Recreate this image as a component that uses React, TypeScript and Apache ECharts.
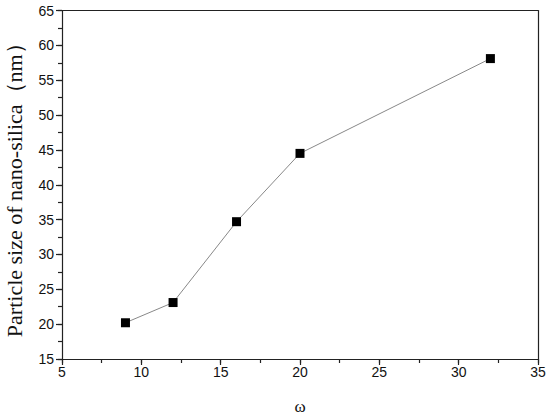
import React, { useEffect, useRef } from "react";
import * as echarts from "echarts";

const omega = [9, 12, 16, 20, 32];
const particleSize = [20.2, 23.1, 34.7, 44.5, 58.1];
const xName = "ω";
const yName = "Particle size of nano-silica（nm）";

export default function App() {
  const ref = useRef<HTMLDivElement>(null);
  useEffect(() => {
    if (!ref.current) return;
    const chart = echarts.init(ref.current, null, { renderer: "svg" });
    const lineC = { color: "#222", width: 1.2 };
    const hiddenBase = {
      type: "value",
      axisLine: { show: false },
      splitLine: { show: false },
      axisLabel: { show: false },
    };
    chart.setOption({
      animation: false,
      backgroundColor: "#fff",
      grid: { left: 62, right: 12, top: 10.5, bottom: 59, containLabel: false, outerBoundsMode: "none" },
      xAxis: [
        {
          type: "value",
          min: 5,
          max: 35,
          interval: 5,
          position: "bottom",
          axisLine: { show: true, lineStyle: lineC },
          splitLine: { show: false },
          axisTick: { show: true, inside: false, length: 6, lineStyle: lineC },
          axisLabel: { fontFamily: "Liberation Sans, Arial", fontSize: 14, color: "#111", margin: 6 },
          name: xName,
          nameLocation: "middle",
          nameGap: 39,
          nameTextStyle: { fontFamily: "Liberation Serif, Times New Roman", fontSize: 17, color: "#111" },
        },
        {
          type: "value",
          min: 5,
          max: 35,
          position: "top",
          axisLine: { show: true, lineStyle: lineC },
          splitLine: { show: false },
          axisTick: { show: false },
          axisLabel: { show: false },
        },
        {
          ...hiddenBase,
          min: 5,
          max: 35,
          interval: 2.5,
          position: "bottom",
          offset: 0,
          axisTick: { show: true, inside: false, length: 4, lineStyle: lineC },
        },
      ],
      yAxis: [
        {
          type: "value",
          min: 15,
          max: 65,
          interval: 5,
          position: "left",
          axisLine: { show: true, lineStyle: lineC },
          splitLine: { show: false },
          axisTick: { show: true, inside: false, length: 6, lineStyle: lineC },
          axisLabel: { fontFamily: "Liberation Sans, Arial", fontSize: 14, color: "#111", margin: 8 },
          name: yName,
          nameLocation: "middle",
          nameGap: 37,
          nameTextStyle: { fontFamily: "Liberation Serif, Times New Roman", fontSize: 22, color: "#111" },
        },
        {
          type: "value",
          min: 15,
          max: 65,
          position: "right",
          axisLine: { show: true, lineStyle: lineC },
          splitLine: { show: false },
          axisTick: { show: false },
          axisLabel: { show: false },
        },
        {
          ...hiddenBase,
          min: 15,
          max: 65,
          interval: 2.5,
          position: "left",
          offset: 0,
          axisTick: { show: true, inside: false, length: 4, lineStyle: lineC },
        },
      ],
      series: [
        {
          type: "line",
          data: omega.map((x, i) => [x, particleSize[i]]),
          symbol: "rect",
          symbolSize: 9,
          itemStyle: { color: "#000" },
          lineStyle: { color: "#888", width: 1 },
        },
      ],
    });
    return () => chart.dispose();
  }, []);
  return <div ref={ref} style={{ width: 550, height: 418, position: "absolute", left: 0, top: 0 }} />;
}
